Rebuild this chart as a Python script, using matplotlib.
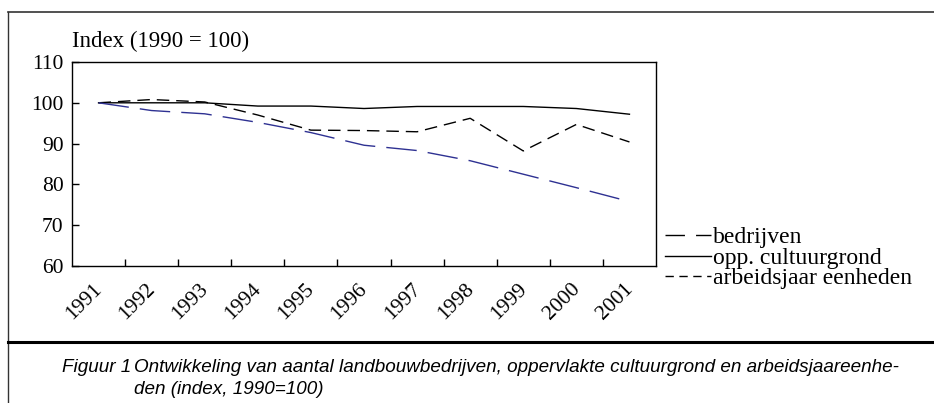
import matplotlib
matplotlib.use("Agg")
import matplotlib.pyplot as plt
import matplotlib.transforms as mtransforms
from matplotlib.lines import Line2D

jaren = ["1991", "1992", "1993", "1994", "1995", "1996", "1997", "1998", "1999", "2000", "2001"]
bedrijven = [100, 98.1, 97.3, 95.2, 92.7, 89.6, 88.3, 85.8, 82.5, 79.2, 75.8]
cultuurgrond = [100, 100, 100, 99.2, 99.2, 98.6, 99.1, 99.1, 99.1, 98.6, 97.2]
arbeidsjaren = [100, 100.8, 100.2, 97.0, 93.3, 93.2, 92.9, 96.2, 88.2, 94.7, 90.4]
labels = ["bedrijven", "opp. cultuurgrond", "arbeidsjaar eenheden"]

plt.rcParams["font.family"] = ["Liberation Serif", "DejaVu Serif"]

W, H = 934, 403
fig = plt.figure(figsize=(W / 100, H / 100), dpi=100)
ax = fig.add_axes([72 / W, 1 - 266 / H, (656 - 72) / W, (266 - 62) / H])

x = list(range(len(jaren)))
ax.plot(x, cultuurgrond, color="black", lw=1.0)
ax.plot(x, arbeidsjaren, color="black", lw=1.0, linestyle=(0, (9, 5)))
ax.plot(x, bedrijven, color="#2e3192", lw=1.0, linestyle=(0, (22, 8)))

ax.set_xlim(-0.5, len(jaren) - 0.5)
ax.set_ylim(60, 110)
ax.set_yticks(range(60, 111, 10))
ax.set_xticks(x)
ax.set_xticklabels(jaren, rotation=45, ha="right", va="top", rotation_mode="anchor")
ax.set_xticks([i + 0.5 for i in range(len(jaren) - 1)], minor=True)
ax.tick_params(axis="x", which="major", length=0, pad=10, labelsize=15.5)
ax.tick_params(axis="x", which="minor", direction="in", length=5, width=1)
ax.tick_params(axis="y", direction="in", length=5, width=1, pad=6, labelsize=15.5)
verschuif = mtransforms.ScaledTranslation(-6 / 100, 0, fig.dpi_scale_trans)
for lab in ax.get_xticklabels():
    lab.set_transform(lab.get_transform() + verschuif)
for s in ax.spines.values():
    s.set_linewidth(1.0)

fig.text(72 / W, 1 - 47 / H, "Index (1990 = 100)", fontsize=16.5, va="baseline")

# legenda rechts naast de grafiek
handles = [
    Line2D([], [], color="black", lw=1.0, linestyle=(0, (14, 8))),
    Line2D([], [], color="black", lw=1.0),
    Line2D([], [], color="black", lw=1.0, linestyle=(0, (6, 4))),
]
fig.legend(handles, labels, loc="center left", bbox_to_anchor=(665 / W, 1 - 258 / H),
           frameon=False, fontsize=17, handlelength=1.95, handletextpad=0.1,
           labelspacing=-0.05, borderpad=0, borderaxespad=0)

# kaderlijnen
fig.add_artist(Line2D([8 / W, 1], [1 - 12 / H] * 2, transform=fig.transFigure, color="#333333", lw=1.2))
fig.add_artist(Line2D([8 / W] * 2, [1 - 12 / H, 0], transform=fig.transFigure, color="#333333", lw=1.0))
fig.add_artist(Line2D([8 / W, 1], [1 - 342 / H] * 2, transform=fig.transFigure, color="black", lw=2.2))

# onderschrift
cap = dict(family="Liberation Sans", fontstyle="italic", fontsize=13.6, va="center")
fig.text(62 / W, 1 - 367 / H, "Figuur 1", **cap)
fig.text(134 / W, 1 - 367 / H, "Ontwikkeling van aantal landbouwbedrijven, oppervlakte cultuurgrond en arbeidsjaareenhe-", **cap)
fig.text(134 / W, 1 - 389 / H, "den (index, 1990=100)", **cap)

fig.savefig("out.png", dpi=100)
